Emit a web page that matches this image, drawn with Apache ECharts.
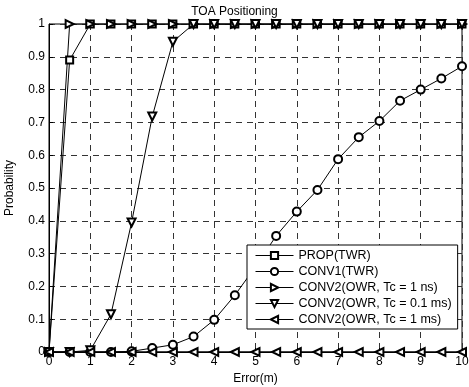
<!DOCTYPE html>
<html><head><meta charset="utf-8">
<script src="https://cdn.jsdelivr.net/npm/echarts@6/dist/echarts.min.js"></script>
<style>html,body{margin:0;padding:0;background:#fff}#c{width:469px;height:387px}</style>
</head><body><div id="c"></div>
<script>
var errorM = [0,0.5,1,1.5,2,2.5,3,3.5,4,4.5,5,5.5,6,6.5,7,7.5,8,8.5,9,9.5,10];
var propTWR = [0,0.89,1,1,1,1,1,1,1,1,1,1,1,1,1,1,1,1,1,1,1];
var conv1TWR = [0,0,0,0,0.002,0.012,0.022,0.047,0.098,0.173,0.26,0.354,0.428,0.494,0.588,0.655,0.704,0.766,0.8,0.834,0.871];
var conv2Tc1ns = [0,1,1,1,1,1,1,1,1,1,1,1,1,1,1,1,1,1,1,1,1];
var conv2Tc01ms = [0,0,0.005,0.115,0.395,0.718,0.946,1,1,1,1,1,1,1,1,1,1,1,1,1,1];
var conv2Tc1ms = [0,0,0,0,0,0,0,0,0,0,0,0,0,0,0,0,0,0,0,0,0];
var names = ['PROP(TWR)','CONV1(TWR)','CONV2(OWR, Tc = 1 ns)','CONV2(OWR, Tc = 0.1 ms)','CONV2(OWR, Tc = 1 ms)'];
var xTicks = ['0','1','2','3','4','5','6','7','8','9','10'];
var yTicks = ['0','0.1','0.2','0.3','0.4','0.5','0.6','0.7','0.8','0.9','1'];

function pairs(ys){ return errorM.map(function(x,i){ return [x, ys[i]]; }); }
function mk(name, ys, symbol, rot, size){
  return {
    name: name, type: 'line', data: pairs(ys), symbol: symbol, symbolSize: size,
    symbolRotate: rot, showAllSymbol: true, animation: false,
    color: '#000',
    lineStyle: { color: '#000', width: 1 },
    itemStyle: { color: '#000', borderColor: '#000', borderWidth: 1 }
  };
}
var font = 'Liberation Sans, Arial, Helvetica, sans-serif';
var chart = echarts.init(document.getElementById('c'), null, {renderer:'canvas'});
chart.setOption({
  animation: false,
  backgroundColor: '#fff',
  title: { text: 'TOA Positioning', left: 'center', top: 1, textStyle: { fontFamily: font, fontSize: 12, fontWeight: 'normal', color: '#000' } },
  grid: { left: 49, right: 7, top: 24, bottom: 35, show: true, borderColor: '#000', borderWidth: 1, backgroundColor: '#fff', containLabel: false, outerBoundsMode: 'none' },
  xAxis: {
    type: 'value', min: 0, max: 10, interval: 1,
    name: 'Error(m)', nameLocation: 'middle', nameGap: 20,
    nameTextStyle: { fontFamily: font, fontSize: 12, color: '#000' },
    axisLine: { lineStyle: { color: '#000', width: 1 } },
    axisTick: { inside: true, length: 4, lineStyle: { color: '#000' } },
    axisLabel: { margin: 4, fontFamily: font, fontSize: 12, color: '#000', formatter: function(v){ return xTicks[Math.round(v)]; } },
    splitLine: { show: true, lineStyle: { color: '#333', type: [6,5], width: 1 } }
  },
  yAxis: {
    type: 'value', min: 0, max: 1, interval: 0.1,
    name: 'Probability', nameLocation: 'middle', nameGap: 33, nameRotate: 90,
    nameTextStyle: { fontFamily: font, fontSize: 12, color: '#000' },
    axisLine: { show: true, lineStyle: { color: '#000', width: 1 } },
    axisTick: { show: true, inside: true, length: 4, lineStyle: { color: '#000' } },
    axisLabel: { margin: 4, fontFamily: font, fontSize: 12, color: '#000', formatter: function(v){ return yTicks[Math.round(v*10)]; } },
    splitLine: { show: true, lineStyle: { color: '#333', type: [6,5], width: 1 } }
  },
  legend: {
    orient: 'vertical', left: 247, top: 245,
    backgroundColor: '#fff', borderColor: '#000', borderWidth: 1,
    padding: [4, 6, 3, 8], itemGap: 3, itemWidth: 38, itemHeight: 9,
    symbolRotate: 'inherit',
    lineStyle: { width: 1 },
    itemStyle: { borderWidth: 1 },
    textStyle: { fontFamily: font, fontSize: 12.5, color: '#000' },
    data: names
  },
  series: [
    mk(names[0], propTWR, 'emptyRect', 0, 7),
    mk(names[1], conv1TWR, 'emptyCircle', 0, 8),
    mk(names[2], conv2Tc1ns, 'emptyTriangle', -90, 8),
    mk(names[3], conv2Tc01ms, 'emptyTriangle', 180, 8),
    mk(names[4], conv2Tc1ms, 'emptyTriangle', 90, 8)
  ]
});
</script></body></html>
